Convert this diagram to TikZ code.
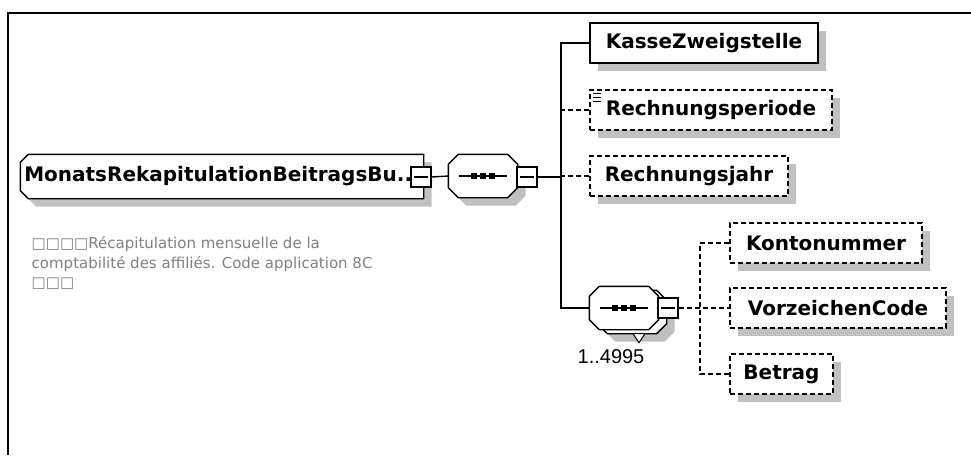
\documentclass[tikz,border=0pt]{standalone}
\usepackage{fontspec}
\setmainfont{DejaVu Sans}
\newfontfamily\countfont{Liberation Sans}
\usetikzlibrary{shadows,backgrounds}
\definecolor{shadowgray}{RGB}{192,192,192}
\definecolor{descgray}{RGB}{128,128,128}
\begin{document}
\begin{tikzpicture}[x=1pt,y=-1pt,line width=1.4pt,
  every on background layer/.style={line width=1.4pt},
  boxshadow/.style={drop shadow={shadow xshift=8pt,shadow yshift=-8pt,fill=shadowgray,opacity=1}},
  castshadow/.style={fill=shadowgray,transform canvas={shift={(8pt,-8pt)}}},
  labelfont/.style={font=\fontsize{20}{24}\selectfont\bfseries},
  elem/.style={draw,fill=white,rectangle,minimum height=40pt,inner sep=0pt,labelfont,boxshadow},
  optline/.style={dash pattern=on 5pt off 3pt},
  optelem/.style={elem,optline},
  seqnode/.style={rectangle,minimum width=68pt,minimum height=42pt,inner sep=0pt},
  seqdots/.style={path picture={
    \draw[line width=1.4pt] ([xshift=-24pt]path picture bounding box.center) -- ([xshift=24pt]path picture bounding box.center);
    \foreach \d in {-9,0,9}
      \fill ([xshift=\d pt]path picture bounding box.center) +(-3pt,-3pt) rectangle +(3pt,3pt);}},
  minusbox/.style={draw,fill=white,rectangle,minimum size=20pt,inner sep=0pt,path picture={
    \draw ([xshift=-7pt]path picture bounding box.center) -- ([xshift=7pt]path picture bounding box.center);}},
  mainpath/.style={insert path={([xshift=8pt]#1.north west) -- (#1.north east) -- (#1.south east)
    -- ([xshift=8pt]#1.south west) -- ([yshift=8pt]#1.south west) -- ([yshift=-8pt]#1.north west) -- cycle}},
  octpath/.style={insert path={([xshift=10pt]#1.north west) -- ([xshift=-10pt]#1.north east)
    -- ([yshift=-10pt]#1.north east) -- ([yshift=10pt]#1.south east) -- ([xshift=-10pt]#1.south east)
    -- ([xshift=10pt]#1.south west) -- ([yshift=10pt]#1.south west) -- ([yshift=-10pt]#1.north west) -- cycle}}]
  \useasboundingbox (0,0) rectangle (971,455);
  \draw[line width=1.2pt] (8,455) -- (8,13) -- (971,13);

  \node[labelfont,minimum width=402pt,minimum height=43pt,inner sep=0pt] (main) at (222,176.5)
    {MonatsRekapitulationBeitragsBu...};
  \node[minusbox] (mainbtn) at (421,177) {};
  \node[anchor=north west,inner sep=0pt,align=left,text=descgray,
    font=\fontsize{15}{19.5}\selectfont] (desc) at (31,236)
    {□□□□Récapitulation mensuelle de la\\comptabilité des affiliés. Code application 8C\\□□□};

  \node[seqnode,seqdots] (seq) at (483,176) {};
  \node[minusbox] (seqbtn) at (527,177) {};
  \coordinate (bus) at (561,43);

  \node[elem,minimum width=228pt] (kasse) at (704,43) {KasseZweigstelle};
  \node[optelem,minimum width=242pt] (periode) at (711,110) {Rechnungsperiode};
  \node[optelem,minimum width=198pt] (jahr) at (689,176) {Rechnungsjahr};
  \foreach \k in {4,8,12}
    \draw[line width=0.8pt] ([xshift=4pt,yshift=-\k pt]periode.north west) -- ++(8,0);

  \node[seqnode] (seqback) at (632,312) {};
  \node[seqnode,seqdots] (seq2) at (624,308) {};
  \node[minusbox] (seq2btn) at (668,308) {};
  \node[font=\countfont\fontsize{20}{24}\selectfont,inner sep=0pt] (count) at (611,357) {1..4995};
  \coordinate (sub) at (700,243);

  \node[optelem,minimum width=192pt] (konto) at (826,243) {Kontonummer};
  \node[optelem,minimum width=216pt] (vorz) at (838,308) {VorzeichenCode};
  \node[optelem,minimum width=103pt] (betrag) at (781.5,374) {Betrag};

  \begin{scope}[on background layer]
    \fill[castshadow,mainpath=main];
    \filldraw[fill=white,mainpath=main];
    \fill[castshadow,octpath=seq];
    \filldraw[fill=white,octpath=seq];
    \fill[castshadow,octpath=seqback];
    \filldraw[fill=white,octpath=seqback];
    \filldraw[fill=white,line width=1pt] ([xshift=1pt]seqback.south) -- ++(12,0) -- ++(-6,9) -- cycle;
    \filldraw[fill=white,octpath=seq2];
  \end{scope}

  \draw (mainbtn.east) -- (seq.west);
  \draw (seqbtn.east) -- (seqbtn.east -| bus);
  \draw (kasse.west) -- (bus) |- (seq2.west);
  \draw[optline] (periode.west) -- (periode.west -| bus);
  \draw[optline] (jahr.west) -- (jahr.west -| bus);
  \draw[optline] (seq2btn.east) -- (vorz.west);
  \draw[optline] (konto.west) -- (sub) |- (betrag.west);
\end{tikzpicture}
\end{document}
